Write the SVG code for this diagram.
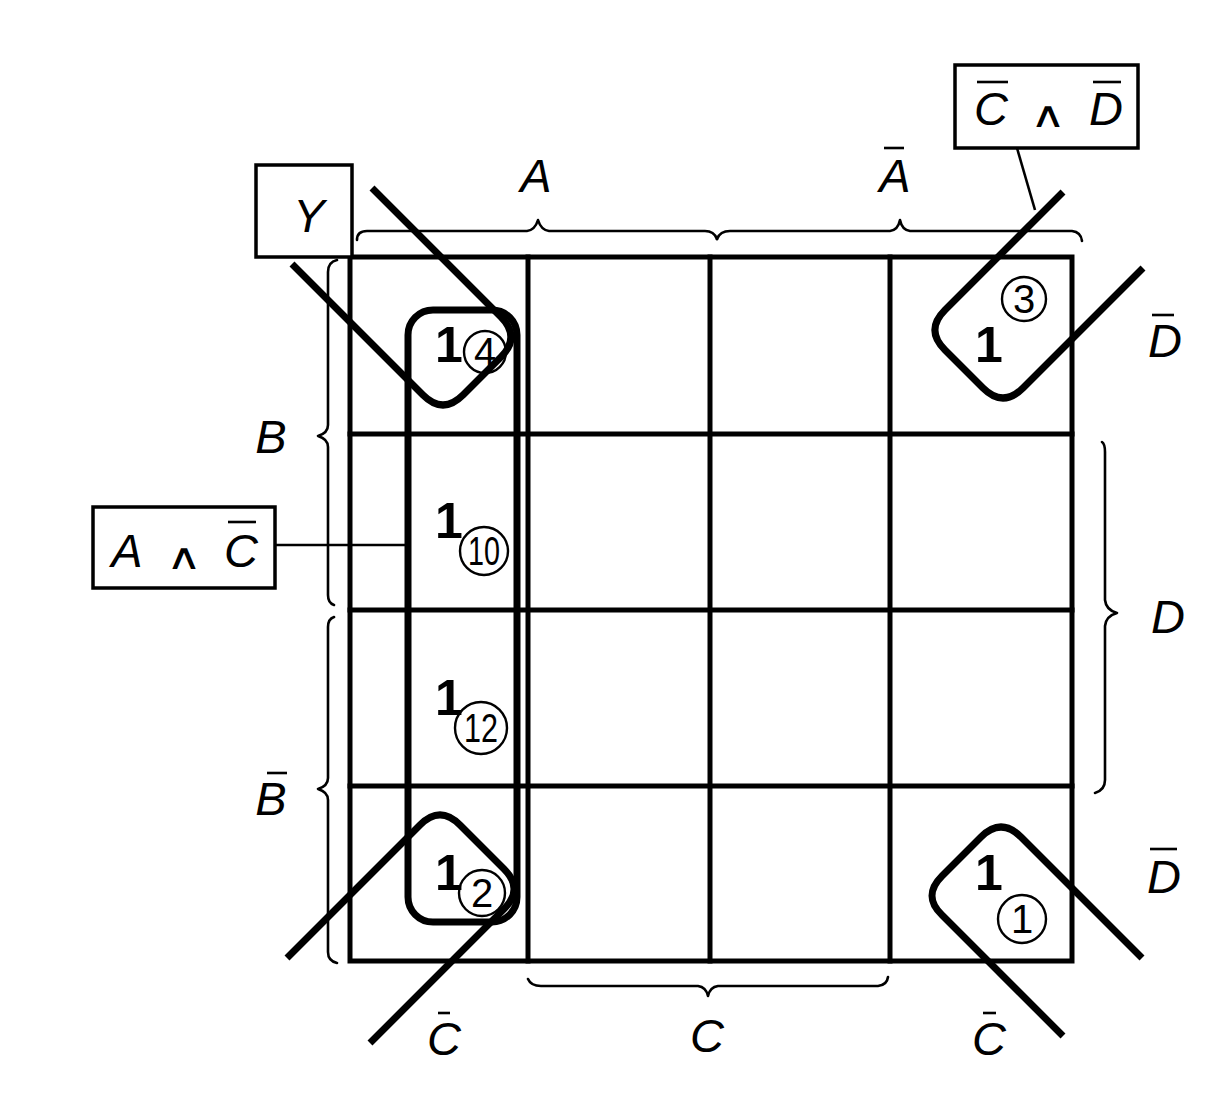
<svg xmlns="http://www.w3.org/2000/svg" width="1232" height="1099" viewBox="0 0 1232 1099">
<style>
.grid{fill:none;stroke:#000;stroke-width:5;stroke-linecap:square}
.loop{fill:none;stroke:#000;stroke-width:7;stroke-linecap:butt;stroke-linejoin:round}
.brace{fill:none;stroke:#000;stroke-width:2.6;stroke-linecap:round;stroke-linejoin:round}
.box{fill:#fff;stroke:#000;stroke-width:3.5}
.lead{fill:none;stroke:#000;stroke-width:2.6}
.bar{stroke:#000;stroke-width:2.6}
.lbl{font-family:"Liberation Sans",Arial,sans-serif;font-style:italic;font-size:47px;fill:#000;text-anchor:middle}
.and{font-family:"DejaVu Sans","Liberation Sans",sans-serif;font-size:36px;fill:#000;text-anchor:middle}
.one{font-family:"Liberation Sans",Arial,sans-serif;font-weight:bold;font-size:50px;fill:#000;text-anchor:middle}
.num{font-family:"Liberation Sans",Arial,sans-serif;font-size:40px;fill:#000;text-anchor:middle}
.circ{fill:none;stroke:#000;stroke-width:2.4}
</style>
<rect width="1232" height="1099" fill="#fff"/>

<g id="grid">
<rect class="grid" x="350" y="257" width="722" height="704"/>
<line class="grid" x1="528" y1="257" x2="528" y2="961"/>
<line class="grid" x1="710" y1="257" x2="710" y2="961"/>
<line class="grid" x1="890" y1="257" x2="890" y2="961"/>
<line class="grid" x1="350" y1="434" x2="1072" y2="434"/>
<line class="grid" x1="350" y1="610" x2="1072" y2="610"/>
<line class="grid" x1="350" y1="786" x2="1072" y2="786"/>
</g>

<g id="braces">
<path class="brace" d="M357,240 Q357,231 367,231 L527,231 Q535,230 538,220 Q541,230 549,231 L705,231 Q714,231 717,239"/>
<path class="brace" d="M717,239 Q720,231 730,231 L890,231 Q898,230 900,220 Q902,230 910,231 L1072,231 Q1081,232 1082,241"/>
<path class="brace" d="M337,260 Q328,262 328,272 L328,425 Q328,433 318,436 Q328,439 328,447 L328,595 Q328,603 334,605"/>
<path class="brace" d="M334,617 Q328,619 328,627 L328,778 Q328,786 318,789 Q328,792 328,800 L328,952 Q328,961 337,963"/>
<path class="brace" d="M1102,442 Q1105,444 1105,452 L1105,600 Q1106,610 1117,613 Q1106,616 1105,626 L1105,780 Q1105,790 1095,793"/>
<path class="brace" d="M528,979 Q531,986 541,986 L698,986 Q706,987 708,996 Q710,987 718,986 L878,986 Q887,985 888,977"/>
</g>

<g id="var-labels">
<text class="lbl" x="536" y="192">A</text>
<text class="lbl" x="895" y="192">A</text><line class="bar" x1="884" y1="148" x2="904" y2="148"/>
<text class="lbl" x="271" y="453">B</text>
<text class="lbl" x="271" y="815">B</text><line class="bar" x1="267" y1="773" x2="287" y2="773"/>
<text class="lbl" x="1165" y="357">D</text><line class="bar" x1="1152" y1="315" x2="1174" y2="315"/>
<text class="lbl" x="1168" y="633">D</text>
<text class="lbl" x="1164" y="893">D</text><line class="bar" x1="1150" y1="849" x2="1177" y2="849"/>
<text class="lbl" x="444" y="1055">C</text><line class="bar" x1="438" y1="1013" x2="450" y2="1013"/>
<text class="lbl" x="707" y="1052">C</text>
<text class="lbl" x="989" y="1055">C</text><line class="bar" x1="983" y1="1013" x2="996" y2="1013"/>
</g>

<g id="Y-box">
<rect class="box" x="256" y="165" width="96" height="92"/>
<text class="lbl" x="309" y="232">Y</text>
</g>

<g id="box-CD">
<rect class="box" x="955" y="65" width="183" height="83"/>
<text class="lbl" x="991" y="125">C</text><line class="bar" x1="977" y1="82" x2="1008" y2="82"/>
<text class="and" x="1048" y="127" textLength="36" lengthAdjust="spacingAndGlyphs">∧</text>
<text class="lbl" x="1106" y="125">D</text><line class="bar" x1="1093" y1="82" x2="1121" y2="82"/>
</g>

<g id="box-AC">
<rect class="box" x="93" y="507" width="182" height="81"/>
<text class="lbl" x="127" y="567">A</text>
<text class="and" x="184" y="569" textLength="36" lengthAdjust="spacingAndGlyphs">∧</text>
<text class="lbl" x="241" y="567">C</text><line class="bar" x1="228" y1="522" x2="256" y2="522"/>
</g>

<g id="connectors">
<line class="lead" x1="275" y1="545" x2="408" y2="545"/>
<line class="lead" x1="1017" y1="148" x2="1035" y2="210"/>
</g>

<g id="loop-AC">
<rect class="loop" x="408" y="310" width="109" height="612" rx="25" ry="25"/>
</g>
<g id="loop-TL">
<path class="loop" d="M372,188 L501,317 Q521,337 501,357 L463,395 Q443,415 423,395 L292,264"/>
</g>
<g id="loop-TR">
<path class="loop" d="M1063,192 L945,310 Q925,330 945,350 L983,388 Q1003,408 1023,388 L1143,268"/>
</g>
<g id="loop-BL">
<path class="loop" d="M287,958 L420,825 Q440,805 460,825 L504,869 Q524,889 504,909 L370,1043"/>
</g>
<g id="loop-BR">
<path class="loop" d="M1142,958 L1021,837 Q1001,817 981,837 L942,876 Q922,896 942,915 L1063,1036"/>
</g>

<g id="cell-4">
<text class="one" x="449" y="362">1</text>
<circle class="circ" cx="485" cy="352" r="21"/>
<text class="num" x="485" y="366">4</text>
</g>
<g id="cell-10">
<text class="one" x="449" y="538">1</text>
<circle class="circ" cx="484" cy="551" r="24"/>
<text class="num" x="484" y="565" textLength="32" lengthAdjust="spacingAndGlyphs">10</text>
</g>
<g id="cell-12">
<text class="one" x="449" y="715">1</text>
<circle class="circ" cx="481" cy="728" r="26"/>
<text class="num" x="481" y="742" textLength="34" lengthAdjust="spacingAndGlyphs">12</text>
</g>
<g id="cell-2">
<text class="one" x="449" y="890">1</text>
<circle class="circ" cx="482" cy="893" r="23"/>
<text class="num" x="482" y="907">2</text>
</g>
<g id="cell-3">
<text class="one" x="989" y="362">1</text>
<circle class="circ" cx="1024" cy="299" r="22"/>
<text class="num" x="1024" y="313">3</text>
</g>
<g id="cell-1">
<text class="one" x="989" y="890">1</text>
<circle class="circ" cx="1022" cy="919" r="24"/>
<text class="num" x="1022" y="933">1</text>
</g>
</svg>
